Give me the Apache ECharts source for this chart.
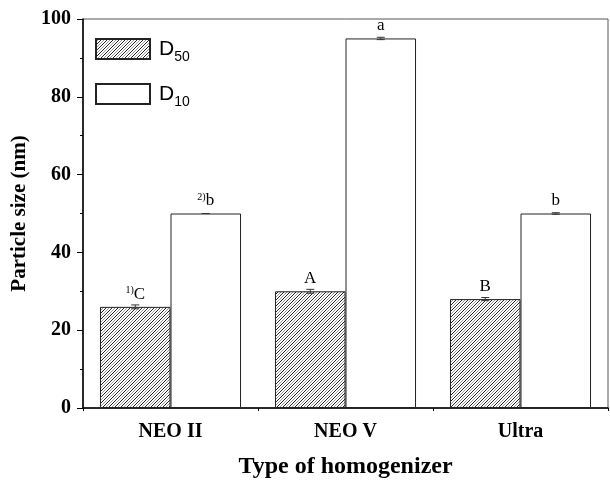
<!DOCTYPE html>
<html><head><meta charset="utf-8">
<script src="https://cdn.jsdelivr.net/npm/echarts@6/dist/echarts.min.js"></script>
<style>html,body{margin:0;padding:0;background:#fff}#c{width:610px;height:484px}</style>
</head><body><div id="c"></div>
<script>
const categories = ['NEO II', 'NEO V', 'Ultra'];
const d50 = [26, 30, 28];
const d10 = [50, 95, 50];
const d50Err = [0.5, 0.5, 0.4];
const d10Err = [0, 0.3, 0.2];
const d50Labels = ['{s|1)}C', 'A', 'B'];
const d10Labels = ['{s|2)}b', 'a', 'b'];
const yTicks = [0, 20, 40, 60, 80, 100];

function hatch() {
  const c = document.createElement('canvas');
  c.width = 6; c.height = 6;
  const g = c.getContext('2d');
  g.fillStyle = '#fff'; g.fillRect(0, 0, 6, 6);
  g.lineWidth = 1;
  g.strokeStyle = '#222';
  g.beginPath(); g.moveTo(-1, 7); g.lineTo(7, -1); g.stroke();
  g.strokeStyle = '#999';
  g.beginPath(); g.moveTo(-4, 7); g.lineTo(4, -1); g.stroke();
  g.beginPath(); g.moveTo(2, 7); g.lineTo(10, -1); g.stroke();
  return c;
}

const serif = '"Liberation Serif", "Times New Roman", serif';
const sans = '"Liberation Sans", Arial, sans-serif';
const BAR_FRAC = 70.5 / 175;

function errItem(params, api) {
  const c = api.value(0);
  const lo = api.coord([c, api.value(1)]);
  const hi = api.coord([c, api.value(2)]);
  const bw = api.size([1, 0])[0];
  const x = lo[0] + api.value(3) * bw * BAR_FRAC / 2;
  const hw = 4;
  const st = { stroke: '#333', lineWidth: 1 };
  return { type: 'group', children: [
    { type: 'line', shape: { x1: x, y1: lo[1], x2: x, y2: hi[1] }, style: st },
    { type: 'line', shape: { x1: x - hw, y1: lo[1], x2: x + hw, y2: lo[1] }, style: st },
    { type: 'line', shape: { x1: x - hw, y1: hi[1], x2: x + hw, y2: hi[1] }, style: st }
  ]};
}

const chart = echarts.init(document.getElementById('c'), null, { renderer: 'canvas' });
const labelRich = { s: { fontSize: 10, fontFamily: serif, verticalAlign: 'top', padding: [0, 0, 7, 0] } };
chart.setOption({
  animation: false,
  grid: { left: 83, right: 2, top: 19, bottom: 76, show: true, borderColor: '#555', borderWidth: 1 },
  legend: {
    orient: 'vertical', left: 95, top: 38, padding: 0, itemWidth: 54, itemHeight: 20, itemGap: 19,
    icon: 'rect',
    data: ['D50', 'D10'],
    formatter: n => '{d|D}{sub|' + n.slice(1) + '}',
    textStyle: { rich: {
      d: { fontSize: 21, fontFamily: sans, color: '#000', padding: [0, 0, 0, 4] },
      sub: { fontSize: 14, fontFamily: sans, color: '#000', padding: [16, 0, 0, 0] }
    } }
  },
  xAxis: [{
    type: 'category', data: categories,
    axisLine: { lineStyle: { color: '#000', width: 1.5 } },
    axisTick: { alignWithLabel: true, length: 8, inside: false, lineStyle: { color: '#000' } },
    axisLabel: { fontFamily: serif, fontWeight: 'bold', fontSize: 20, color: '#000', margin: 14 },
    name: 'Type of homogenizer', nameLocation: 'middle', nameGap: 47,
    nameTextStyle: { fontFamily: serif, fontWeight: 'bold', fontSize: 24, color: '#000' }
  }, {
    type: 'value', min: 0, max: 3, interval: 1, position: 'bottom',
    axisLine: { show: false }, axisLabel: { show: false }, splitLine: { show: false },
    axisTick: { show: true, length: 3, lineStyle: { color: '#000' } }
  }],
  yAxis: {
    type: 'value', min: yTicks[0], max: yTicks[yTicks.length - 1], interval: 20,
    axisLine: { show: true, lineStyle: { color: '#000', width: 1.5 } },
    axisTick: { show: true, length: 6, lineStyle: { color: '#000' } },
    minorTick: { show: true, splitNumber: 2, length: 3, lineStyle: { color: '#000' } },
    splitLine: { show: false },
    axisLabel: { fontFamily: serif, fontWeight: 'bold', fontSize: 20, color: '#000', margin: 12 },
    name: 'Particle size (nm)', nameLocation: 'middle', nameGap: 52,
    nameTextStyle: { fontFamily: serif, fontWeight: 'bold', fontSize: 21, color: '#000' }
  },
  series: [
    { name: 'D50', type: 'bar', data: d50, barGap: '0%', barCategoryGap: '19.4%',
      itemStyle: { color: { image: hatch(), repeat: 'repeat' }, borderColor: '#222', borderWidth: 1 },
      label: { show: true, position: 'top', distance: 4, fontFamily: serif, fontSize: 17, color: '#000',
        formatter: p => d50Labels[p.dataIndex], rich: labelRich } },
    { name: 'D10', type: 'bar', data: d10,
      itemStyle: { color: '#fff', borderColor: '#222', borderWidth: 1 },
      label: { show: true, position: 'top', distance: 4, fontFamily: serif, fontSize: 17, color: '#000',
        formatter: p => d10Labels[p.dataIndex], rich: labelRich } },
    { type: 'custom', renderItem: errItem, z: 5, silent: true,
      data: d50.map((v, i) => [i, v - d50Err[i], v + d50Err[i], -1]) },
    { type: 'custom', renderItem: errItem, z: 5, silent: true,
      data: d10.map((v, i) => [i, v - d10Err[i], v + d10Err[i], 1]) }
  ]
});
</script></body></html>
